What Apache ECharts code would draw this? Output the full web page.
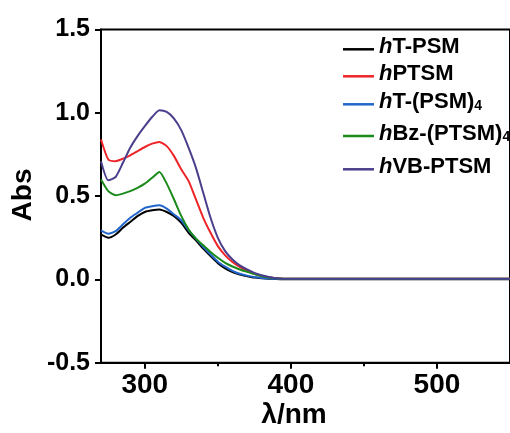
<!DOCTYPE html>
<html>
<head>
<meta charset="utf-8">
<script src="https://cdn.jsdelivr.net/npm/echarts@6/dist/echarts.min.js"></script>
<style>
html,body{margin:0;padding:0;background:#fff;}
#chart{width:510px;height:433px;}
</style>
</head>
<body>
<div id="chart"></div>
<script>
// ---- data ----
var wavelength = [270,275,280,285,290,295,300,305,310,315,320,325,330,335,340,345,350,355,360,365,370,375,380,385,390,395,400,420,450,500,550];
var hT_PSM    = [0.27,0.25,0.27,0.31,0.345,0.38,0.405,0.415,0.42,0.405,0.38,0.34,0.28,0.235,0.185,0.14,0.098,0.067,0.044,0.029,0.02,0.012,0.008,0.005,0.003,0.002,0.002,0.002,0.002,0.002,0.002];
var hPTSM     = [0.84,0.72,0.71,0.725,0.745,0.77,0.795,0.815,0.825,0.80,0.74,0.66,0.59,0.48,0.37,0.28,0.20,0.145,0.105,0.075,0.052,0.034,0.021,0.013,0.008,0.005,0.004,0.004,0.004,0.004,0.004];
var hT_PSM4   = [0.295,0.275,0.29,0.33,0.37,0.40,0.43,0.44,0.445,0.425,0.39,0.355,0.295,0.245,0.195,0.15,0.107,0.077,0.052,0.034,0.023,0.015,0.009,0.006,0.004,0.003,0.003,0.003,0.003,0.003,0.003];
var hBz_PTSM4 = [0.60,0.53,0.505,0.515,0.53,0.55,0.575,0.61,0.645,0.575,0.48,0.38,0.30,0.245,0.205,0.165,0.13,0.10,0.078,0.06,0.046,0.032,0.02,0.012,0.007,0.005,0.004,0.004,0.004,0.004,0.004];
var hVB_PTSM  = [0.71,0.595,0.615,0.70,0.79,0.86,0.92,0.975,1.015,1.005,0.965,0.895,0.79,0.67,0.52,0.37,0.25,0.17,0.12,0.085,0.06,0.04,0.025,0.015,0.008,0.005,0.004,0.004,0.004,0.004,0.004];
var seriesNames = ['hT-PSM','hPTSM','hT-(PSM)4','hBz-(PTSM)4','hVB-PTSM'];
var seriesValues = [hT_PSM, hPTSM, hT_PSM4, hBz_PTSM4, hVB_PTSM];
var seriesColors = ['#000000','#ee2528','#2266cc','#1a8a1a','#4b3e8c'];
var xLabelTicks = [300,400,500];
var xMinorTicks = [350,450];
var yTitle = 'Abs';
var xTitle = 'λ/nm';

var FONT = '"Liberation Sans", Arial, sans-serif';
var legendRowY = [49.3, 76.3, 104.3, 136, 169.3];

function pairs(vals){
  return wavelength.map(function(w,i){return [w, vals[i]];});
}
function legendLabel(name){
  var rest = name.slice(1);
  var sub = '';
  if (rest.charAt(rest.length-1) === '4') { sub = '4'; rest = rest.slice(0,-1); }
  return '{i|h}{b|' + rest + '}' + (sub ? '{s|' + sub + '}' : '');
}

var series = seriesNames.map(function(n,i){
  return {
    name: n, type: 'line', data: pairs(seriesValues[i]),
    showSymbol: false, smooth: 0.2,
    lineStyle: {color: seriesColors[i], width: 2},
    itemStyle: {color: seriesColors[i]},
    xAxisIndex: 0, yAxisIndex: 0, z: 2 + i
  };
});

var legends = seriesNames.map(function(n,i){
  return {
    data: [n], orient: 'vertical', left: 343, top: legendRowY[i] - 13.5,
    padding: 0, icon: 'rect', itemWidth: 31, itemHeight: 2.5,
    formatter: legendLabel,
    selectedMode: false,
    textStyle: {
      color: '#000', padding: [0,0,5,0],
      rich: {
        i: {fontFamily: FONT, fontSize: 22, fontWeight: 'bold', fontStyle: 'italic', color: '#000', lineHeight: 22},
        b: {fontFamily: FONT, fontSize: 22, fontWeight: 'bold', color: '#000', lineHeight: 22},
        s: {fontFamily: FONT, fontSize: 14, fontWeight: 'bold', color: '#000', lineHeight: 22, verticalAlign: 'bottom'}
      }
    }
  };
});

var chart = echarts.init(document.getElementById('chart'), null, {renderer: 'canvas'});
chart.setOption({
  animation: false,
  backgroundColor: '#fff',
  grid: {left: 101, top: 29.5, width: 411.6, height: 333.3, show: true, borderColor: '#000', borderWidth: 2, containLabel: false},
  legend: legends,
  xAxis: [{
    type: 'value', min: 270, max: 550, position: 'bottom',
    axisLine: {show: true, onZero: false, lineStyle: {color: '#000', width: 2}},
    axisTick: {show: true, length: 6, lineStyle: {color: '#000', width: 2}, customValues: xLabelTicks},
    axisLabel: {show: true, customValues: xLabelTicks, margin: 8, color: '#000', fontFamily: FONT, fontSize: 28, fontWeight: 'bold'},
    splitLine: {show: false}
  },{
    type: 'value', min: 270, max: 550, position: 'bottom',
    axisLine: {show: false, onZero: false},
    axisTick: {show: true, length: 3.5, lineStyle: {color: '#000', width: 2}, customValues: xMinorTicks},
    axisLabel: {show: false},
    splitLine: {show: false}
  }],
  yAxis: {
    type: 'value', min: -0.5, max: 1.5, interval: 0.5,
    axisLine: {show: true, onZero: false, lineStyle: {color: '#000', width: 2}},
    axisTick: {show: true, length: 6, lineStyle: {color: '#000', width: 2}},
    axisLabel: {margin: 11, color: '#000', fontFamily: FONT, fontSize: 25, fontWeight: 'bold', formatter: function(v){return v.toFixed(1);}},
    splitLine: {show: false}
  },
  graphic: [
    {type: 'text', x: 23, y: 195, rotation: Math.PI/2,
     style: {text: yTitle, font: 'bold 28px ' + FONT, fill: '#000', textAlign: 'center', textVerticalAlign: 'middle'}},
    {type: 'text', x: 294, y: 415,
     style: {text: xTitle, font: 'bold 28px ' + FONT, fill: '#000', textAlign: 'center', textVerticalAlign: 'middle'}}
  ],
  series: series
});
</script>
</body>
</html>
